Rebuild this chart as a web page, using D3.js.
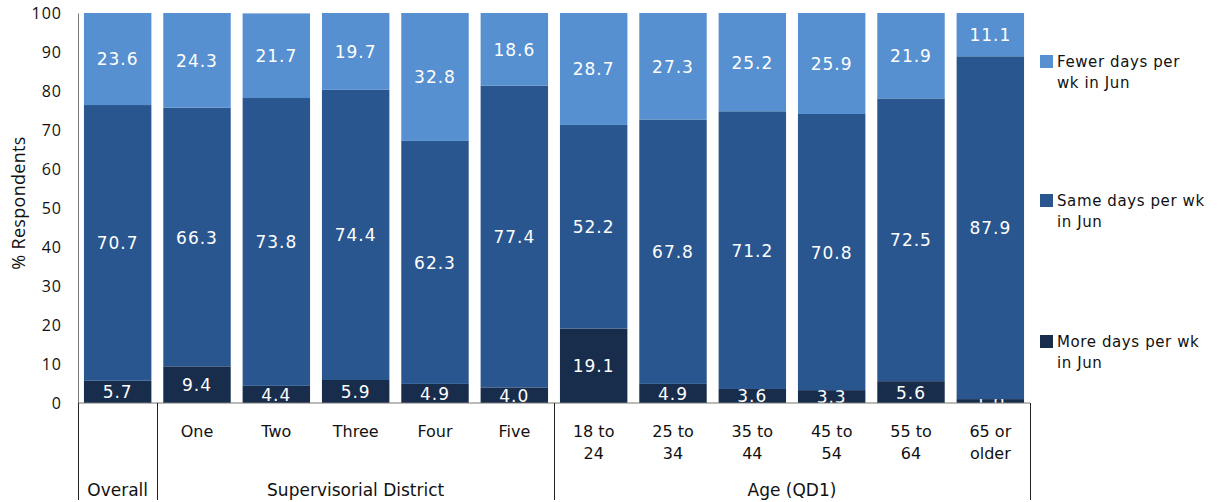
<!DOCTYPE html>
<html>
<head>
<meta charset="utf-8">
<script src="https://cdn.jsdelivr.net/npm/d3@7/dist/d3.min.js"></script>
<style>
  html, body { margin: 0; padding: 0; background: #fff; }
  svg text { font-family: "DejaVu Sans", Verdana, sans-serif; fill: #111; }
</style>
</head>
<body>
<svg id="chart" width="1219" height="502"></svg>
<script>
// Categories (label lines) and the group each belongs to
const categories = ["Overall", "One", "Two", "Three", "Four", "Five",
  "18 to 24", "25 to 34", "35 to 44", "45 to 54", "55 to 64", "65 or older"];
const categoryLines = [[""], ["One"], ["Two"], ["Three"], ["Four"], ["Five"],
  ["18 to", "24"], ["25 to", "34"], ["35 to", "44"], ["45 to", "54"], ["55 to", "64"], ["65 or", "older"]];
const groups = ["Overall", "Supervisorial District", "Age (QD1)"];

// Series values (% of respondents)
const moreDays  = [5.7, 9.4, 4.4, 5.9, 4.9, 4.0, 19.1, 4.9, 3.6, 3.3, 5.6, 1.0];
const sameDays  = [70.7, 66.3, 73.8, 74.4, 62.3, 77.4, 52.2, 67.8, 71.2, 70.8, 72.5, 87.9];
const fewerDays = [23.6, 24.3, 21.7, 19.7, 32.8, 18.6, 28.7, 27.3, 25.2, 25.9, 21.9, 11.1];

const legendLines = [["More days per wk", "in Jun"], ["Same days per wk", "in Jun"], ["Fewer days per", "wk in Jun"]];
const yTicks = [0, 10, 20, 30, 40, 50, 60, 70, 80, 90, 100];

(function () {
const colors = ["#182c4b", "#29568f", "#5690d0"];
const svg = d3.select("#chart");
const pLeft = 78, pRight = 1030, pTop = 13, pBottom = 403;

const x = d3.scaleBand().domain(categories).range([pLeft, pRight]).paddingInner(0.15).paddingOuter(0.075);
const y = d3.scaleLinear().domain([0, 100]).range([pBottom, pTop]);

const rows = categories.map((c, i) => ({ cat: c, s0: moreDays[i], s1: sameDays[i], s2: fewerDays[i] }));
const stacked = d3.stack().keys(["s0", "s1", "s2"])(rows);

svg.append("defs").append("clipPath").attr("id", "plotClip")
  .append("rect").attr("x", pLeft).attr("y", 0).attr("width", pRight - pLeft).attr("height", pBottom);

const plot = svg.append("g").attr("clip-path", "url(#plotClip)");

stacked.forEach((layer, li) => {
  const g = plot.append("g");
  g.selectAll("rect").data(layer).enter().append("rect")
    .attr("x", d => x(d.data.cat))
    .attr("width", x.bandwidth())
    .attr("y", d => y(d[1]))
    .attr("height", d => y(d[0]) - y(d[1]))
    .attr("fill", colors[li]);
  g.selectAll("text").data(layer).enter().append("text")
    .attr("x", d => x(d.data.cat) + x.bandwidth() / 2)
    .attr("y", d => (y(d[0]) + y(d[1])) / 2)
    .attr("dy", "0.38em")
    .attr("text-anchor", "middle")
    .style("font-size", "17px")
    .style("letter-spacing", "1px")
    .style("fill", "#fff")
    .text(d => (d[1] - d[0]).toFixed(1));
});

// Y axis
const yAxis = svg.append("g").attr("transform", `translate(${pLeft},0)`)
  .call(d3.axisLeft(y).tickValues(yTicks).tickSize(0).tickPadding(16));
yAxis.select(".domain").attr("stroke", "#777");
yAxis.selectAll("text")
  .style("font-family", "'Open Sans', sans-serif")
  .style("font-size", "16px").style("letter-spacing", "1px").style("fill", "#111");

svg.append("text")
  .attr("transform", `translate(25,203) rotate(-90)`)
  .attr("text-anchor", "middle")
  .style("font-family", "'Open Sans', sans-serif")
  .style("font-size", "18px")
  .style("letter-spacing", "0.3px")
  .text("% Respondents");

// X baseline
svg.append("line").attr("x1", pLeft).attr("x2", pRight).attr("y1", pBottom).attr("y2", pBottom)
  .attr("stroke", "#777").attr("stroke-width", 1);

// Category labels
categories.forEach((c, i) => {
  const cx = x(c) + x.bandwidth() / 2;
  const t = svg.append("text").attr("x", cx).attr("y", 437)
    .attr("text-anchor", "middle").style("font-size", "16px");
  categoryLines[i].forEach((ln, k) => {
    t.append("tspan").attr("x", cx).attr("dy", k === 0 ? 0 : 22).text(ln);
  });
});

// Group separators and labels
const step = x.step();
const edgeX = i => x(categories[i]) - (x.paddingInner() * step) / 2;
const seps = [pLeft, edgeX(1), edgeX(6), pRight];
seps.forEach(sx => {
  svg.append("line").attr("x1", Math.round(sx) + 0.5).attr("x2", Math.round(sx) + 0.5)
    .attr("y1", pBottom).attr("y2", 500).attr("stroke", "#222").attr("stroke-width", 1);
});
groups.forEach((g, i) => {
  svg.append("text")
    .attr("x", (seps[i] + seps[i + 1]) / 2)
    .attr("y", 496)
    .attr("text-anchor", "middle")
    .style("font-size", "17px")
    .text(g);
});

// Legend (top to bottom: fewer, same, more)
const legendBase = [67, 206, 347];
[2, 1, 0].forEach((si, k) => {
  const by = legendBase[k];
  svg.append("rect").attr("x", 1040).attr("y", by - 12).attr("width", 13).attr("height", 13).attr("fill", colors[si]);
  const t = svg.append("text").attr("x", 1057).attr("y", by).style("font-size", "15px").style("letter-spacing", "0.6px");
  legendLines[si].forEach((ln, j) => {
    t.append("tspan").attr("x", 1057).attr("dy", j === 0 ? 0 : 21).text(ln);
  });
});
})();
</script>
</body>
</html>
